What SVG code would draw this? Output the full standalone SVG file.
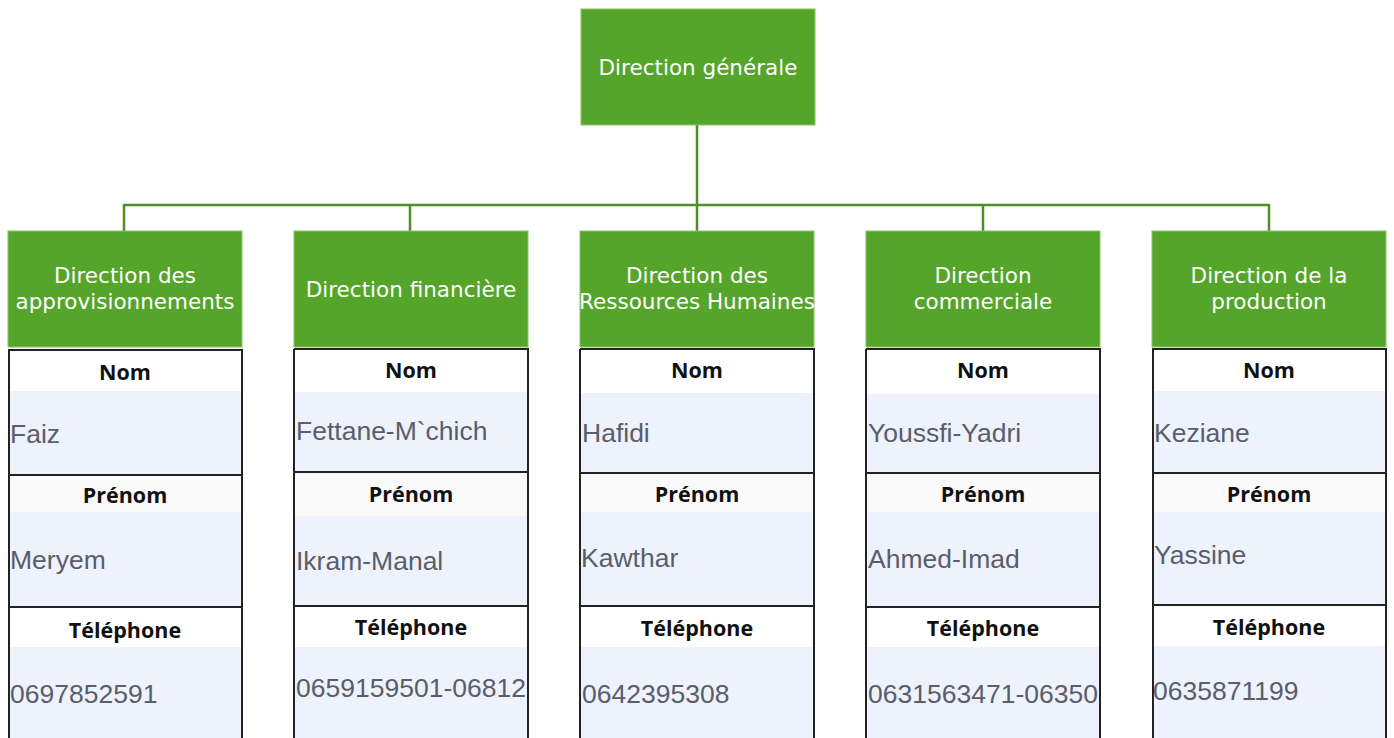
<svg xmlns="http://www.w3.org/2000/svg" width="1394" height="738" viewBox="0 0 1394 738">
<style>
.box{fill:#55A52B;stroke:#8CC46A;stroke-width:1}
.bt{font-family:"DejaVu Sans",Verdana,sans-serif;font-size:21.5px;fill:#ffffff;text-anchor:middle}
.hdr{fill:#ffffff}
.hdr2{fill:#FAFAFA}
.dat{fill:#EEF2FC}
.ht{font-family:"Open Sans","DejaVu Sans",sans-serif;font-weight:bold;font-size:21.5px;fill:#111111;text-anchor:middle}
.dt{font-family:"Liberation Sans",Arial,sans-serif;font-size:26.5px;fill:#5A5D6B}
.bd{stroke:#222222;stroke-width:2;fill:none}
.con{stroke:#4E8F2C;stroke-width:2.5;fill:none}
</style>
<defs>
<clipPath id="c1"><rect x="8" y="349" width="234" height="389"/></clipPath>
<clipPath id="c2"><rect x="294" y="349" width="234" height="389"/></clipPath>
<clipPath id="c3"><rect x="580" y="349" width="234" height="389"/></clipPath>
<clipPath id="c4"><rect x="866" y="349" width="234" height="389"/></clipPath>
<clipPath id="c5"><rect x="1152" y="349" width="234" height="389"/></clipPath>
</defs>
<rect width="1394" height="738" fill="#ffffff"/>
<g id="connectors">
<path class="con" d="M697 125 V205 M124 205 H1269 M124 204 V232 M410 204 V232 M697 204 V232 M983 204 V232 M1269 204 V232"/>
</g>
<g id="n0">
<rect class="box" x="581" y="9" width="234" height="116"/>
<text class="bt" x="698" y="75">Direction générale</text>
</g>
<g id="n1">
<rect class="box" x="8" y="231" width="234" height="116"/>
<text class="bt" x="125" y="283">Direction des</text>
<text class="bt" x="125" y="309">approvisionnements</text>
<g clip-path="url(#c1)">
<rect class="hdr" x="8" y="350" width="234" height="41"/>
<rect class="dat" x="8" y="391" width="234" height="84"/>
<rect class="hdr2" x="8" y="475" width="234" height="37"/>
<rect class="dat" x="8" y="512" width="234" height="95"/>
<rect class="hdr" x="8" y="607" width="234" height="40"/>
<rect class="dat" x="8" y="647" width="234" height="91"/>
<text class="ht" x="125" y="380">Nom</text>
<text class="dt" x="10" y="443">Faiz</text>
<text class="ht" x="125" y="503">Prénom</text>
<text class="dt" x="10" y="569">Meryem</text>
<text class="ht" x="125" y="638">Téléphone</text>
<text class="dt" x="10" y="703">0697852591</text>
</g>
<path class="bd" d="M9 349 V738 M242 349 V738 M8 350 H243 M8 475 H243 M8 607 H243"/>
</g>
<g id="n2">
<rect class="box" x="294" y="231" width="234" height="116"/>
<text class="bt" x="411" y="297">Direction financière</text>
<g clip-path="url(#c2)">
<rect class="hdr" x="294" y="349" width="234" height="43"/>
<rect class="dat" x="294" y="392" width="234" height="80"/>
<rect class="hdr2" x="294" y="472" width="234" height="44"/>
<rect class="dat" x="294" y="516" width="234" height="90"/>
<rect class="hdr" x="294" y="606" width="234" height="41"/>
<rect class="dat" x="294" y="647" width="234" height="91"/>
<text class="ht" x="411" y="378">Nom</text>
<text class="dt" x="296" y="440">Fettane-M`chich</text>
<text class="ht" x="411" y="502">Prénom</text>
<text class="dt" x="296" y="570">Ikram-Manal</text>
<text class="ht" x="411" y="635">Téléphone</text>
<text class="dt" x="296" y="697">0659159501-06812</text>
</g>
<path class="bd" d="M294 349 V738 M528 349 V738 M294 349 H529 M294 472 H529 M294 606 H529"/>
</g>
<g id="n3">
<rect class="box" x="580" y="231" width="234" height="116"/>
<text class="bt" x="697" y="283">Direction des</text>
<text class="bt" x="697" y="309">Ressources Humaines</text>
<g clip-path="url(#c3)">
<rect class="hdr" x="580" y="349" width="234" height="44"/>
<rect class="dat" x="580" y="393" width="234" height="80"/>
<rect class="hdr2" x="580" y="473" width="234" height="39"/>
<rect class="dat" x="580" y="512" width="234" height="94"/>
<rect class="hdr" x="580" y="606" width="234" height="41"/>
<rect class="dat" x="580" y="647" width="234" height="91"/>
<text class="ht" x="697" y="378">Nom</text>
<text class="dt" x="582" y="442">Hafidi</text>
<text class="ht" x="697" y="502">Prénom</text>
<text class="dt" x="581" y="567">Kawthar</text>
<text class="ht" x="697" y="636">Téléphone</text>
<text class="dt" x="582" y="703">0642395308</text>
</g>
<path class="bd" d="M580 349 V738 M814 349 V738 M580 349 H815 M580 473 H815 M580 606 H815"/>
</g>
<g id="n4">
<rect class="box" x="866" y="231" width="234" height="116"/>
<text class="bt" x="983" y="283">Direction</text>
<text class="bt" x="983" y="309">commerciale</text>
<g clip-path="url(#c4)">
<rect class="hdr" x="866" y="349" width="234" height="45"/>
<rect class="dat" x="866" y="394" width="234" height="79"/>
<rect class="hdr2" x="866" y="473" width="234" height="39"/>
<rect class="dat" x="866" y="512" width="234" height="95"/>
<rect class="hdr" x="866" y="607" width="234" height="40"/>
<rect class="dat" x="866" y="647" width="234" height="91"/>
<text class="ht" x="983" y="378">Nom</text>
<text class="dt" x="868" y="442">Youssfi-Yadri</text>
<text class="ht" x="983" y="502">Prénom</text>
<text class="dt" x="868" y="568">Ahmed-Imad</text>
<text class="ht" x="983" y="636">Téléphone</text>
<text class="dt" x="868" y="703">0631563471-06350</text>
</g>
<path class="bd" d="M866 349 V738 M1100 349 V738 M866 349 H1101 M866 473 H1101 M866 607 H1101"/>
</g>
<g id="n5">
<rect class="box" x="1152" y="231" width="234" height="116"/>
<text class="bt" x="1269" y="283">Direction de la</text>
<text class="bt" x="1269" y="309">production</text>
<g clip-path="url(#c5)">
<rect class="hdr" x="1152" y="349" width="234" height="42"/>
<rect class="dat" x="1152" y="391" width="234" height="82"/>
<rect class="hdr2" x="1152" y="473" width="234" height="39"/>
<rect class="dat" x="1152" y="512" width="234" height="93"/>
<rect class="hdr" x="1152" y="605" width="234" height="41"/>
<rect class="dat" x="1152" y="646" width="234" height="92"/>
<text class="ht" x="1269" y="378">Nom</text>
<text class="dt" x="1154" y="442">Keziane</text>
<text class="ht" x="1269" y="502">Prénom</text>
<text class="dt" x="1154" y="564">Yassine</text>
<text class="ht" x="1269" y="635">Téléphone</text>
<text class="dt" x="1153" y="700">0635871199</text>
</g>
<path class="bd" d="M1153 349 V738 M1386 349 V738 M1152 349 H1387 M1152 473 H1387 M1152 605 H1387"/>
</g>
</svg>
